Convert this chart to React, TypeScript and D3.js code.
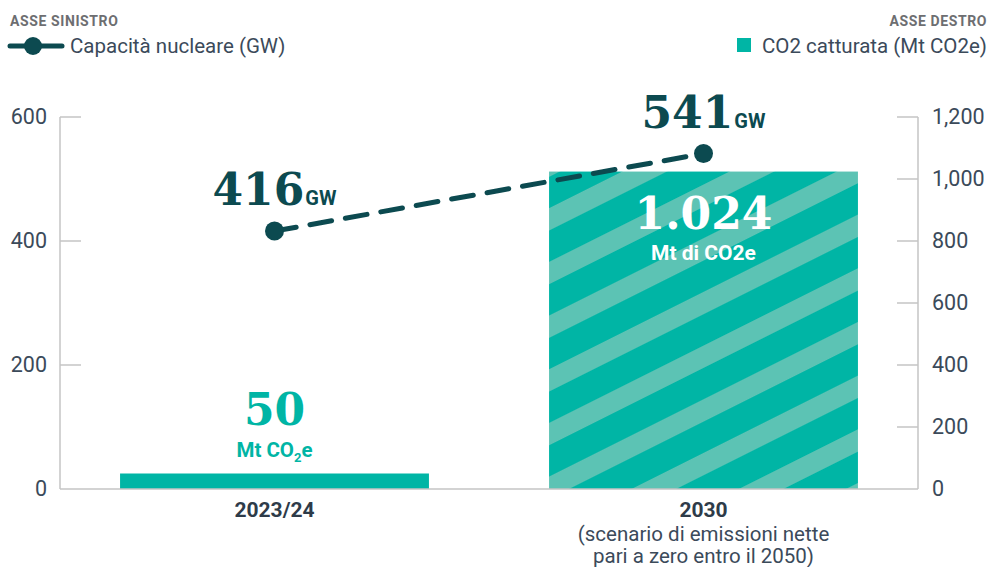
import * as d3 from "d3";

// data
const categories = ["2023/24", "2030"];
const co2Captured = [50, 1024]; // Mt CO2e, right axis
const nuclearCapacity = [416, 541]; // GW, left axis
const leftTicks = [0, 200, 400, 600];
const rightTicks = [0, 200, 400, 600, 800, 1000, 1200];
const co2Labels = ["50", "1.024"];
const gwLabels = ["416", "541"];

const W = 990;
const H = 567;
const margin = { top: 117, right: 72, bottom: 78, left: 60 };

const TEAL = "#00b5a5";
const TEAL_LIGHT = "#5cc3b4";
const DARK = "#0c4a50";
const INK = "#3b4a5a";
const SANS = "Roboto, 'Liberation Sans', sans-serif";
const SERIF = "'DejaVu Serif', 'Liberation Serif', serif";

export default function App() {
  const x = d3
    .scaleBand<string>()
    .domain(categories)
    .range([margin.left, W - margin.right])
    .paddingInner(0.28)
    .paddingOuter(0.14);
  const yL = d3.scaleLinear().domain([0, 600]).range([H - margin.bottom, margin.top]);
  const yR = d3.scaleLinear().domain([0, 1200]).range([H - margin.bottom, margin.top]);
  const x0 = margin.left;
  const x1 = W - margin.right;
  const base = yL(0);
  const fmt = d3.format(",");

  const pts: [number, number][] = categories.map((c, i) => [
    (x(c) || 0) + x.bandwidth() / 2,
    yL(nuclearCapacity[i]),
  ]);
  const line = d3.line();

  return (
    <svg width={W} height={H} style={{ position: "absolute", left: 0, top: 0 }}>
      <defs>
        <pattern
          id="stripes"
          patternUnits="userSpaceOnUse"
          width={48}
          height={48}
          patternTransform="rotate(-26.6)"
        >
          <rect width={48} height={48} fill={TEAL} />
          <rect y={0} width={48} height={20} fill={TEAL_LIGHT} />
        </pattern>
      </defs>

      {/* legends */}
      <text x={10} y={26} fontFamily={SANS} fontSize={14} fontWeight="bold" letterSpacing={0.6} fill="#6d6e71">
        ASSE SINISTRO
      </text>
      <line x1={10} y1={46} x2={62} y2={46} stroke={DARK} strokeWidth={5} strokeLinecap="round" />
      <circle cx={33} cy={46} r={9} fill={DARK} />
      <text x={70} y={53} fontFamily={SANS} fontSize={20.5} fill={INK}>
        Capacità nucleare (GW)
      </text>
      <text x={987} y={26} textAnchor="end" fontFamily={SANS} fontSize={14} fontWeight="bold" letterSpacing={0.6} fill="#6d6e71">
        ASSE DESTRO
      </text>
      <rect x={737} y={38} width={14} height={14} fill={TEAL} />
      <text x={987} y={53} textAnchor="end" fontFamily={SANS} fontSize={20.5} fill={INK}>
        CO2 catturata (Mt CO2e)
      </text>

      {/* axes */}
      <g stroke="#c4c4c4" strokeWidth={1.5} fill="none">
        <line x1={x0} y1={yL(600)} x2={x0} y2={base} />
        <line x1={x1} y1={yR(1200)} x2={x1} y2={base} />
        {leftTicks.slice(1).map((t) => (
          <line key={"l" + t} x1={x0} x2={x0 + 21} y1={yL(t)} y2={yL(t)} />
        ))}
        {rightTicks.slice(1).map((t) => (
          <line key={"r" + t} x1={x1 - 21} x2={x1} y1={yR(t)} y2={yR(t)} />
        ))}
      </g>
      {leftTicks.map((t) => (
        <text key={"lt" + t} x={47} y={yL(t) + 7} textAnchor="end" fontFamily={SANS} fontSize={21.5} fill={INK}>
          {t}
        </text>
      ))}
      {rightTicks.map((t) => (
        <text key={"rt" + t} x={932} y={yR(t) + 7} fontFamily={SANS} fontSize={21.5} fill={INK}>
          {fmt(t)}
        </text>
      ))}

      {/* bars */}
      {categories.map((c, i) => (
        <rect
          key={c}
          x={x(c)}
          y={yR(co2Captured[i])}
          width={x.bandwidth()}
          height={base - yR(co2Captured[i])}
          fill={i === 0 ? TEAL : "url(#stripes)"}
        />
      ))}
      <line x1={x0} x2={x1} y1={base} y2={base} stroke="#c4c4c4" strokeWidth={1.5} />

      {/* bar labels */}
      {categories.map((c, i) => {
        const cx = (x(c) || 0) + x.bandwidth() / 2;
        const inside = i === 1;
        const yTop = inside ? yR(co2Captured[i]) + 57 : yR(co2Captured[i]) - 49;
        const col = inside ? "#ffffff" : TEAL;
        return (
          <g key={"lab" + c}>
            <text x={cx} y={yTop} textAnchor="middle" fontFamily={SERIF} fontSize={44} fontWeight="bold" fill={col}>
              {co2Labels[i]}
            </text>
            {inside ? (
              <text x={cx} y={yTop + 31} textAnchor="middle" fontFamily={SANS} fontSize={21} fontWeight="bold" fill={col}>
                Mt di CO2e
              </text>
            ) : (
              <text x={cx} y={yTop + 32} textAnchor="middle" fontFamily={SANS} fontSize={20.5} fontWeight="bold" fill={col}>
                Mt CO<tspan fontSize={13} dy={5}>2</tspan>
                <tspan dy={-5}>e</tspan>
              </text>
            )}
          </g>
        );
      })}

      {/* line */}
      <path
        d={line(pts) || ""}
        fill="none"
        stroke={DARK}
        strokeWidth={5}
        strokeDasharray="22 14"
        strokeLinecap="round"
      />
      {pts.map(([px, py], i) => (
        <g key={"p" + i}>
          <circle cx={px} cy={py} r={9.5} fill={DARK} />
          <text x={px - 62} y={py - 26} fontFamily={SERIF} fontSize={44} fontWeight="bold" fill={DARK}>
            {gwLabels[i]}
            <tspan fontFamily={SANS} fontSize={20} fontWeight="bold" dx={1}>
              GW
            </tspan>
          </text>
        </g>
      ))}

      {/* category labels */}
      <text x={(x("2023/24") || 0) + x.bandwidth() / 2} y={517} textAnchor="middle" fontFamily={SANS} fontSize={21} fontWeight="bold" fill="#2e3b49">
        2023/24
      </text>
      <g fontFamily={SANS} fontSize={20.5} fill={INK} textAnchor="middle">
        <text x={(x("2030") || 0) + x.bandwidth() / 2} y={517} fontSize={21} fontWeight="bold" fill="#2e3b49">
          2030
        </text>
        <text x={(x("2030") || 0) + x.bandwidth() / 2} y={541}>
          (scenario di emissioni nette
        </text>
        <text x={(x("2030") || 0) + x.bandwidth() / 2} y={563}>
          pari a zero entro il 2050)
        </text>
      </g>
    </svg>
  );
}
